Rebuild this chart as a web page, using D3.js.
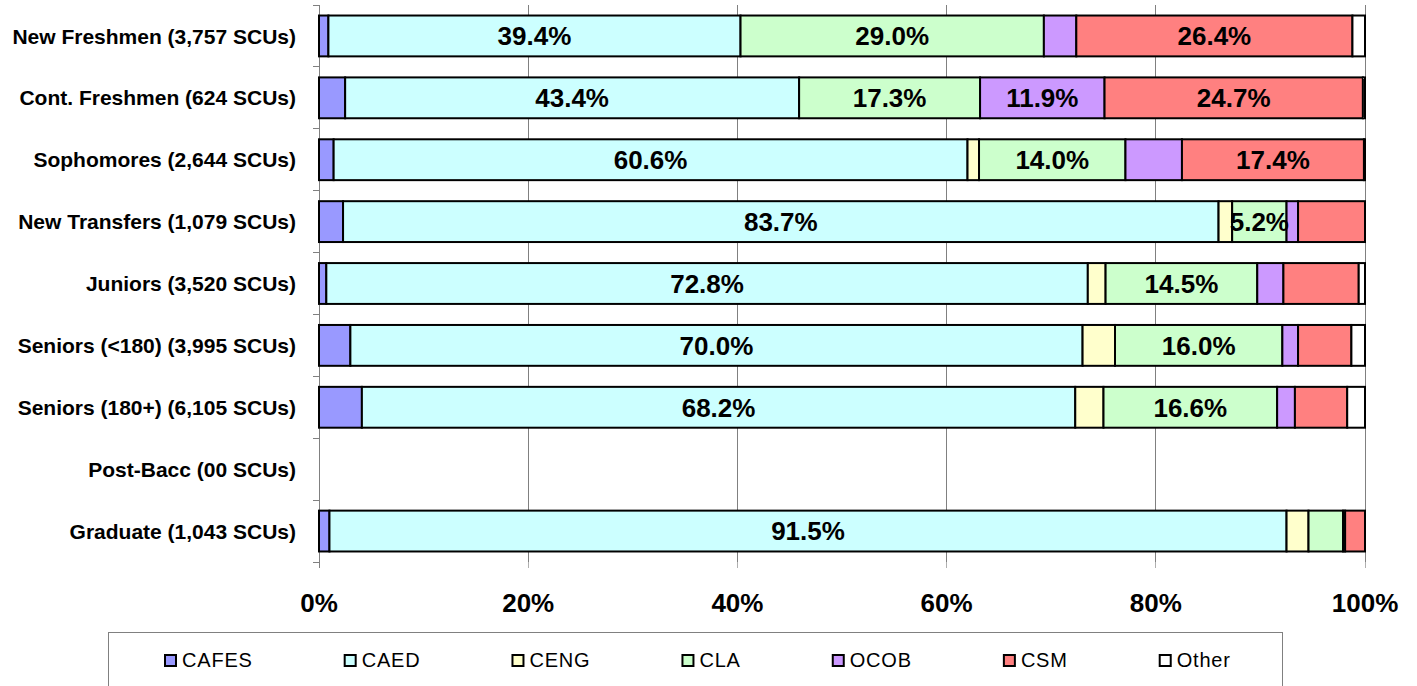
<!DOCTYPE html>
<html>
<head>
<meta charset="utf-8">
<script src="https://cdn.jsdelivr.net/npm/d3@7"></script>
<style>
  html, body { margin: 0; padding: 0; background: #fff; }
  svg { display: block; font-family: "Liberation Sans", Arial, sans-serif; }
</style>
</head>
<body>
<svg id="chart" width="1417" height="686"></svg>
<script>
// ---- data ----
const categories = [
  "New Freshmen (3,757 SCUs)",
  "Cont. Freshmen (624 SCUs)",
  "Sophomores (2,644 SCUs)",
  "New Transfers (1,079 SCUs)",
  "Juniors (3,520 SCUs)",
  "Seniors (<180) (3,995 SCUs)",
  "Seniors (180+) (6,105 SCUs)",
  "Post-Bacc (00 SCUs)",
  "Graduate (1,043 SCUs)"
];
const seriesNames = ["CAFES", "CAED", "CENG", "CLA", "OCOB", "CSM", "Other"];
const CAFES = [0.9, 2.5, 1.4, 2.3, 0.7, 3.0, 4.1, 0, 1.0];
const CAED  = [39.4, 43.4, 60.6, 83.7, 72.8, 70.0, 68.2, 0, 91.5];
const CENG  = [0, 0, 1.1, 1.3, 1.7, 3.1, 2.7, 0, 2.1];
const CLA   = [29.0, 17.3, 14.0, 5.2, 14.5, 16.0, 16.6, 0, 3.3];
const OCOB  = [3.1, 11.9, 5.4, 1.1, 2.5, 1.5, 1.7, 0, 0.2];
const CSM   = [26.4, 24.7, 17.4, 6.4, 7.2, 5.1, 5.0, 0, 1.9];
const Other = [1.2, 0.2, 0.1, 0, 0.6, 1.3, 1.7, 0, 0];
const xTicks = [0, 20, 40, 60, 80, 100];
const colors = ["#9999FF", "#CCFFFF", "#FFFFCC", "#CCFFCC", "#CC99FF", "#FF8080", "#FFFFFF"];
// data labels shown in the original (series, category index)
const labeled = [
  ["CAED", 0], ["CLA", 0], ["CSM", 0],
  ["CAED", 1], ["CLA", 1], ["OCOB", 1], ["CSM", 1],
  ["CAED", 2], ["CLA", 2], ["CSM", 2],
  ["CAED", 3], ["CLA", 3],
  ["CAED", 4], ["CLA", 4],
  ["CAED", 5], ["CLA", 5],
  ["CAED", 6], ["CLA", 6],
  ["CAED", 8]
];

const seriesValues = [CAFES, CAED, CENG, CLA, OCOB, CSM, Other];
const table = categories.map((c, i) => {
  const row = { category: c };
  seriesNames.forEach((s, j) => row[s] = seriesValues[j][i]);
  return row;
});

// ---- layout ----
const svg = d3.select("#chart");
const plot = { left: 319, right: 1365, top: 5, bottom: 562 };

const x = d3.scaleLinear().domain([0, 100]).range([plot.left, plot.right]);
const y = d3.scaleBand().domain(categories).range([plot.top, plot.bottom])
  .paddingInner(0.34).paddingOuter(0.17);
const color = d3.scaleOrdinal().domain(seriesNames).range(colors);

const stack = d3.stack().keys(seriesNames);
const stacked = stack(table);

// gridlines
svg.append("g").selectAll("line").data(xTicks.filter(t => t > 0)).join("line")
  .attr("x1", d => x(d)).attr("x2", d => x(d))
  .attr("y1", plot.top).attr("y2", plot.bottom)
  .attr("stroke", "#808080").attr("stroke-width", 1).attr("shape-rendering", "crispEdges");

// x axis ticks (below plot)
svg.append("g").selectAll("line").data(xTicks).join("line")
  .attr("x1", d => x(d)).attr("x2", d => x(d))
  .attr("y1", plot.bottom).attr("y2", plot.bottom + 6)
  .attr("stroke", "#b0b0b0").attr("stroke-width", 1).attr("shape-rendering", "crispEdges");

// y axis line + ticks at band boundaries
const step = y.step();
const boundaries = d3.range(categories.length + 1).map(i => plot.top + i * step);
svg.append("line")
  .attr("x1", plot.left).attr("x2", plot.left)
  .attr("y1", plot.top).attr("y2", plot.bottom + 6)
  .attr("stroke", "#808080").attr("stroke-width", 1).attr("shape-rendering", "crispEdges");
svg.append("g").selectAll("line").data(boundaries).join("line")
  .attr("x1", plot.left - 6).attr("x2", plot.left)
  .attr("y1", d => d).attr("y2", d => d)
  .attr("stroke", "#808080").attr("stroke-width", 1).attr("shape-rendering", "crispEdges");

// bars
const layers = svg.append("g").selectAll("g").data(stacked).join("g")
  .attr("fill", d => color(d.key));
layers.selectAll("rect").data(d => d.filter(p => p[1] - p[0] > 0)).join("rect")
  .attr("x", d => x(d[0]))
  .attr("y", d => y(d.data.category))
  .attr("width", d => x(d[1]) - x(d[0]))
  .attr("height", y.bandwidth())
  .attr("stroke", "#000").attr("stroke-width", 2);

// data labels
const fmt = d3.format(".1f");
const labelData = labeled.map(([s, i]) => {
  const layer = stacked[seriesNames.indexOf(s)];
  return layer[i];
});
svg.append("g").selectAll("text").data(labelData).join("text")
  .attr("x", d => (x(d[0]) + x(d[1])) / 2)
  .attr("y", d => y(d.data.category) + y.bandwidth() / 2)
  .attr("dy", "0.36em")
  .attr("text-anchor", "middle")
  .attr("font-size", 26).attr("font-weight", "bold").attr("fill", "#000")
  .text(d => fmt(d[1] - d[0]) + "%");

// category labels
svg.append("g").selectAll("text").data(categories).join("text")
  .attr("x", 296)
  .attr("y", d => y(d) + y.bandwidth() / 2)
  .attr("dy", "0.36em")
  .attr("text-anchor", "end")
  .attr("font-size", 21).attr("font-weight", "bold").attr("fill", "#000")
  .text(d => d);

// x tick labels
svg.append("g").selectAll("text").data(xTicks).join("text")
  .attr("x", d => x(d))
  .attr("y", 612)
  .attr("text-anchor", "middle")
  .attr("font-size", 26).attr("font-weight", "bold").attr("fill", "#000")
  .text(d => d + "%");

// legend
const legend = svg.append("g");
legend.append("rect")
  .attr("x", 108.5).attr("y", 632.5).attr("width", 1174).attr("height", 80)
  .attr("fill", "#fff").attr("stroke", "#808080").attr("stroke-width", 1);
let lx = 165;
seriesNames.forEach((s, i) => {
  const g = legend.append("g");
  g.append("rect")
    .attr("x", lx).attr("y", 655).attr("width", 11).attr("height", 11)
    .attr("fill", color(s)).attr("stroke", "#000").attr("stroke-width", 2);
  const t = g.append("text")
    .attr("x", lx + 17).attr("y", 667)
    .attr("font-size", 20).attr("fill", "#000")
    .attr("letter-spacing", "0.8px")
    .text(s);
  const w = t.node().getComputedTextLength();
  lx = lx + 17 + w + 92;
});
</script>
</body>
</html>
